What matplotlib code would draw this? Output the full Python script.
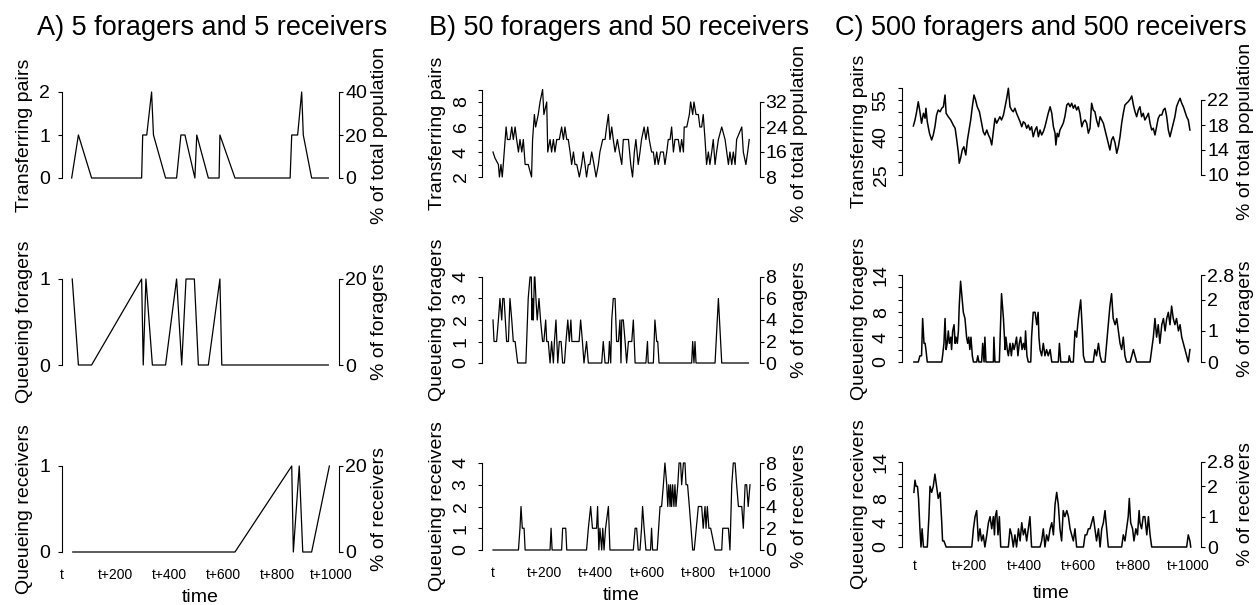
import numpy as np
import matplotlib
matplotlib.use("Agg")
import matplotlib.pyplot as plt

plt.rcParams['font.family'] = ['Liberation Sans', 'DejaVu Sans']

# ---------------- data ----------------
TITLES = ["A) 5 foragers and 5 receivers",
          "B) 50 foragers and 50 receivers",
          "C) 500 foragers and 500 receivers"]
LEFT_LABELS = ["Transferring pairs", "Queueing foragers", "Queueing receivers"]
RIGHT_LABELS = ["% of total population", "% of foragers", "% of receivers"]
XTICK_VALUES = [0, 200, 400, 600, 800, 1000]
XTICK_LABELS = ["t", "t+200", "t+400", "t+600", "t+800", "t+1000"]

# Panel A (5 + 5)
A1_T = [36, 61, 110, 296, 300, 315, 333, 340, 385, 426, 442, 457, 494, 501,
        544, 584, 587, 643, 848, 854, 876, 891, 897, 928, 990]
A1_V = [0, 1, 0, 0, 1, 1, 2, 1, 0, 0, 1, 1, 0, 1,
        0, 0, 1, 0, 0, 1, 1, 2, 1, 0, 0]
A2_T = [38, 61, 110, 296, 302, 312, 336, 385, 426, 445, 461, 492, 507, 544,
        587, 594, 990]
A2_V = [1, 0, 0, 1, 0, 1, 0, 0, 1, 0, 1, 1, 0, 0,
        1, 0, 0]
A3_T = [40, 643, 854, 860, 882, 895, 928, 994]
A3_V = [0, 0, 1, 0, 1, 0, 0, 1]

# Panel B (50 + 50)
B1_T = [0, 8, 21, 25, 31, 36, 40, 51, 56, 66,
        73, 79, 86, 92, 99, 105, 112, 118, 125, 137,
        150, 154, 161, 166, 176, 183, 193, 198, 209, 213,
        222, 228, 235, 241, 248, 258, 267, 274, 280, 287,
        293, 300, 306, 313, 319, 326, 336, 345, 351, 358,
        364, 371, 377, 384, 393, 401, 410, 416, 427, 436,
        442, 449, 455, 462, 468, 475, 484, 492, 501, 507,
        517, 527, 536, 543, 550, 556, 565, 572, 578, 588,
        595, 602, 608, 617, 624, 630, 637, 643, 652, 663,
        669, 676, 682, 689, 695, 702, 708, 715, 721, 728,
        734, 741, 744, 754, 764, 769, 777, 782, 790, 799,
        805, 812, 818, 825, 831, 838, 844, 851, 857, 864,
        870, 877, 890, 903, 916, 922, 929, 935, 942, 948,
        958, 968, 974, 984, 991, 997]
B1_V = [4, 3.5, 3, 2, 3, 2, 3, 6, 5, 5,
        6, 5, 6, 5, 4, 5, 4, 5, 3, 3,
        2, 5, 7, 6, 7, 8, 9, 7, 8, 4,
        5, 4, 5, 4, 5, 5, 6, 5, 6, 5,
        5, 4, 3, 4, 3, 3, 2, 3, 4, 3,
        2, 3, 3, 4, 3, 2, 3, 4, 5, 5,
        6, 7, 5, 6, 5, 4, 5, 4, 3, 5,
        5, 5, 3, 2, 4, 5, 3, 4, 5, 6,
        5, 6, 5, 4, 4, 3, 4, 3, 4, 4,
        3, 4, 5, 5, 6, 4, 5, 5, 5, 4,
        5, 4, 6, 6, 7, 8, 7, 8, 7, 7,
        6, 6, 7, 5, 3, 4, 3, 4, 5, 3,
        4, 5, 6, 5, 3, 4, 3, 4, 3, 5,
        5.5, 6, 4, 3, 4, 5]
B2_T = [0, 4, 14, 21, 27, 34, 38, 43, 48, 53,
        60, 66, 73, 79, 86, 96, 128, 137, 144, 149,
        152, 154, 157, 161, 163, 167, 172, 179, 185, 193,
        198, 205, 209, 215, 222, 228, 235, 239, 245, 252,
        258, 265, 271, 278, 284, 291, 297, 303, 307, 315,
        326, 335, 341, 348, 354, 364, 371, 423, 429, 436,
        449, 453, 458, 462, 468, 475, 481, 488, 494, 498,
        501, 507, 514, 520, 527, 533, 540, 546, 553, 595,
        601, 604, 624, 630, 637, 641, 646, 773, 777, 782,
        786, 790, 864, 877, 890, 994]
B2_V = [2, 1, 1, 2, 3, 2, 3, 3, 2, 1,
        1, 3, 2, 1, 1, 0, 0, 3, 4, 4,
        2, 3, 2, 4, 4, 3, 2, 3, 2, 1,
        1, 2, 1, 1, 0, 1, 0, 1, 2, 0,
        1, 1, 0, 0, 1, 2, 1, 2, 1, 1,
        1, 1, 2, 1, 0, 1, 0, 0, 1, 0,
        0, 1, 0, 2, 3, 3, 1, 1, 2, 0,
        2, 2, 1, 0, 1, 1, 1, 2, 0, 0,
        1, 0, 0, 2, 1, 1, 0, 0, 1, 0,
        1, 0, 0, 3, 0, 0]
B3_T = [0, 99, 105, 109, 114, 121, 125, 222, 226, 230,
        267, 271, 283, 287, 364, 371, 380, 387, 397, 403,
        407, 412, 416, 423, 427, 432, 438, 449, 455, 546,
        553, 559, 565, 572, 578, 582, 588, 595, 613, 617,
        621, 639, 650, 656, 663, 669, 676, 680, 684, 689,
        691, 695, 699, 704, 708, 712, 719, 724, 730, 734,
        741, 747, 751, 757, 764, 777, 783, 799, 812, 818,
        825, 829, 834, 840, 847, 864, 890, 894, 916, 922,
        929, 935, 942, 948, 955, 968, 974, 981, 987, 993,
        1000]
B3_V = [0, 0, 1, 2, 1, 1, 0, 0, 1, 0,
        0, 1, 1, 0, 0, 1, 2, 1, 1, 1,
        2, 0, 1, 0, 1, 0, 1, 2, 0, 0,
        1, 1, 0, 0, 1, 2, 1, 0, 0, 1,
        0, 0, 2, 2, 3, 4, 3, 2, 3, 2,
        3, 2, 3, 2, 3, 2, 3, 4, 4, 3,
        4, 4, 3, 3, 2, 0, 0, 2, 2, 1,
        2, 1, 2, 1, 1, 0, 0, 1, 1, 0,
        3, 4, 4, 3, 2, 2, 1, 3, 3, 2,
        3]

# Panel C (500 + 500)
C1_T = [-6, 0, 6, 12, 18, 24, 31, 37, 40, 45,
        53, 61, 67, 73, 79, 85, 92, 98, 104, 110,
        114, 122, 131, 140, 147, 153, 159, 162, 167, 173,
        179, 186, 192, 198, 204, 210, 216, 222, 228, 236,
        244, 250, 256, 263, 269, 275, 281, 287, 293, 299,
        305, 311, 317, 324, 330, 336, 342, 348, 354, 360,
        366, 372, 385, 391, 397, 403, 409, 415, 421, 427,
        433, 440, 446, 452, 458, 464, 470, 476, 482, 488,
        495, 501, 507, 513, 516, 521, 526, 531, 537, 543,
        549, 556, 562, 568, 574, 580, 586, 592, 598, 604,
        611, 617, 623, 629, 635, 641, 647, 653, 659, 665,
        672, 678, 684, 690, 696, 702, 708, 714, 720, 726,
        733, 739, 745, 751, 757, 763, 769, 775, 781, 788,
        794, 800, 806, 812, 818, 824, 830, 836, 842, 849,
        855, 861, 867, 873, 879, 885, 891, 897, 904, 910,
        916, 922, 928, 934, 940, 946, 952, 958, 965, 971,
        977, 983, 989, 995, 1001, 1007]
C1_V = [44.6, 47, 50.3, 54.3, 50.3, 45.7, 49.7, 47.7, 51.7, 46.3,
        41.7, 39, 41, 44.3, 49, 51, 50.3, 51.7, 52.3, 57,
        49.7, 48.3, 47, 45, 43.7, 39, 33.7, 29.7, 31.7, 35,
        36.3, 33, 39, 43, 47, 52.3, 57, 55, 52.3, 50.3,
        45.7, 42.3, 41, 43, 41, 39.7, 37, 42.3, 47.7, 45.7,
        47, 48.3, 47, 49, 52.3, 55.7, 59.7, 52.3, 51, 50.3,
        51.7, 49.7, 46.3, 44.3, 46.3, 45.7, 43.7, 45, 43, 44.3,
        40.3, 43, 44.3, 40.3, 43, 41, 42.3, 44.3, 47, 49.7,
        52.3, 49.7, 44.3, 41.7, 37, 41.7, 40.3, 43, 44.3, 45.7,
        48.3, 53, 53.7, 52.3, 53.7, 51.7, 53, 51, 52.3, 49.7,
        44.3, 46.3, 47, 45.7, 41.7, 43.7, 53.7, 51, 50.3, 47,
        44.3, 48.3, 47, 45.7, 43, 40.3, 37.7, 35, 39, 40.3,
        37.7, 33.7, 36.3, 40.3, 45.7, 49.7, 53, 53.7, 54.3, 55.3,
        56.6, 53, 50.3, 48.3, 51, 52.3, 48.3, 49.7, 47, 48.3,
        49.7, 45.7, 43, 43.7, 41, 44.3, 47.7, 49, 49, 51,
        51.7, 48.3, 43, 40.3, 43, 45.7, 48.3, 52.3, 54.3, 55.7,
        53.7, 52.3, 50.3, 48.3, 47, 43]
C2_T = [-4, 12, 18, 24, 28, 33, 37, 40, 45, 98,
        101, 106, 110, 114, 118, 122, 126, 131, 134, 138,
        143, 147, 150, 155, 159, 162, 167, 171, 177, 183,
        189, 193, 197, 201, 205, 210, 214, 226, 230, 234,
        244, 248, 253, 256, 260, 287, 289, 293, 309, 314,
        317, 324, 330, 333, 338, 342, 348, 353, 358, 363,
        368, 372, 377, 382, 387, 392, 397, 402, 405, 410,
        415, 424, 427, 433, 440, 446, 451, 454, 458, 464,
        470, 476, 482, 488, 495, 501, 525, 529, 534, 562,
        565, 570, 580, 586, 592, 596, 601, 607, 613, 617,
        623, 653, 659, 665, 672, 678, 684, 696, 702, 708,
        714, 720, 726, 733, 739, 745, 751, 757, 763, 769,
        775, 788, 794, 800, 806, 812, 861, 867, 873, 879,
        885, 891, 897, 904, 910, 916, 922, 928, 934, 940,
        946, 952, 958, 965, 971, 977, 983, 989, 995, 1001,
        1007]
C2_V = [0, 0, 1, 1, 7, 3, 3, 2, 0, 0,
        1, 3, 7, 2, 3, 5, 3, 4, 2, 5,
        6, 3, 4, 3, 5, 9, 13, 11, 8, 7,
        4, 3, 4, 2, 4, 1, 0, 0, 1, 0,
        0, 3, 0, 4, 0, 0, 4, 0, 0, 7,
        11, 7, 2, 4, 2, 1, 3, 1, 3, 2,
        3, 4, 1, 3, 4, 2, 3, 2, 5, 1,
        0, 0, 4, 8, 8, 6, 8, 4, 2, 1,
        3, 1, 2, 1, 2, 0, 0, 3, 0, 0,
        1, 0, 0, 5, 4, 6, 8, 10, 5, 1,
        0, 0, 2, 1, 3, 1, 0, 0, 3, 6,
        9, 11, 7, 6, 7, 5, 3, 2, 4, 1,
        0, 0, 1, 2, 1, 0, 0, 2, 4, 7,
        4, 6, 3, 6, 7, 5, 7, 8, 6, 9,
        7, 6, 7, 5, 6, 4, 3, 2, 1, 0,
        2]
C3_T = [-4, 0, 4, 9, 13, 18, 22, 26, 31, 45,
        51, 55, 61, 67, 73, 79, 85, 92, 98, 101,
        106, 114, 208, 214, 220, 226, 232, 238, 244, 250,
        256, 263, 269, 275, 281, 287, 291, 294, 299, 304,
        309, 314, 342, 348, 354, 360, 366, 372, 379, 385,
        391, 397, 403, 409, 415, 421, 427, 458, 464, 470,
        476, 482, 488, 495, 501, 507, 513, 519, 525, 531,
        537, 543, 549, 556, 562, 568, 574, 580, 586, 592,
        617, 623, 629, 635, 641, 647, 653, 659, 665, 672,
        678, 684, 690, 696, 702, 708, 757, 763, 769, 775,
        781, 785, 790, 797, 802, 809, 815, 821, 824, 830,
        836, 842, 849, 855, 861, 867, 995, 1001, 1007, 1010]
C3_V = [9, 11, 10, 10, 8, 3, 0, 3, 0, 0,
        5, 10, 9, 10, 12, 10, 8, 9, 4, 1,
        1, 0, 0, 3, 5, 6, 1, 3, 1, 2,
        0, 2, 4, 5, 3, 5, 2, 5, 6, 2,
        5, 0, 0, 3, 2, 0, 2, 0, 3, 1,
        4, 2, 3, 1, 3, 5, 0, 0, 1, 3,
        0, 2, 1, 3, 4, 2, 7, 9, 7, 3,
        1, 6, 5, 6, 5, 3, 2, 1, 3, 0,
        0, 2, 2, 3, 3, 4, 5, 3, 1, 3,
        0, 3, 4, 6, 3, 0, 0, 2, 1, 3,
        5, 8, 4, 3, 1, 3, 2, 6, 4, 3,
        5, 5, 2, 5, 2, 0, 0, 2, 1, 0]

SERIES = [[(A1_T, A1_V), (A2_T, A2_V), (A3_T, A3_V)],
          [(B1_T, B1_V), (B2_T, B2_V), (B3_T, B3_V)],
          [(C1_T, C1_V), (C2_T, C2_V), (C3_T, C3_V)]]

# left-axis ticks/labels, right-axis factor/ticks/labels
LEFT_TICKS = [
    [([0, 1, 2], ["0", "1", "2"]), ([0, 1], ["0", "1"]), ([0, 1], ["0", "1"])],
    [(list(range(2, 10)), ["2", "", "4", "", "6", "", "8", ""]),
     ([0, 1, 2, 3, 4], ["0", "1", "2", "3", "4"]),
     ([0, 1, 2, 3, 4], ["0", "1", "2", "3", "4"])],
    [(list(range(25, 61, 5)), ["25", "", "", "40", "", "", "55", ""]),
     (list(range(0, 15, 2)), ["0", "", "4", "", "8", "", "", "14"]),
     (list(range(0, 15, 2)), ["0", "", "4", "", "8", "", "", "14"])],
]
RIGHT_FACTOR = [[20, 20, 20], [4, 2, 2], [0.4, 0.2, 0.2]]
RIGHT_TICKS = [
    [[0, 20, 40], [0, 20], [0, 20]],
    [[8, 16, 24, 32], [0, 2, 4, 6, 8], [0, 2, 4, 6, 8]],
    [[10, 14, 18, 22], [0, 1, 2, 2.8], [0, 1, 2, 2.8]],
]
RIGHT_TICKLABELS = [
    [["0", "20", "40"], ["0", "20"], ["0", "20"]],
    [["8", "16", "24", "32"], ["0", "2", "4", "6", "8"], ["0", "2", "4", "6", "8"]],
    [["10", "14", "18", "22"], ["0", "1", "2", "2.8"], ["0", "1", "2", "2.8"]],
]

# ---------------- layout (pixels) ----------------
W, H = 1260, 605
fig = plt.figure(figsize=(W / 100, H / 100), dpi=100)

COL_PX = [  # left spine, right spine, px of t, px of t+1000
    (62, 339, 62, 331),
    (482, 759.5, 493, 750),
    (902, 1201, 915, 1188),
]
ROW_PX = [  # per column: (px of lowest tick, px of highest tick) per row
    [(178, 92), (365, 279), (552, 466)],
    [(177, 89.5), (363, 277), (550, 463)],
    [(175, 87.5), (362, 275), (547, 462)],
]
LEFT_LABEL_X = [25, 438, 860]
RIGHT_LABEL_X = [380, 800, 1245]
TITLE_X = [37, 429, 835]
TIME_Y = [597, 595, 593]
XTICK_PAD = [11.5, 11.7, 8.8]
LEFT_ROT = [0, 90, 90]
LEFT_PAD = [5.8, 6.0, 6.0]
LINE_W = [0.9, 0.9, 1.1]

FS_TICK = 14
FS_LABEL = 14
LW = 0.8


def fx(px):
    return px / W


def fy(py):
    return 1 - py / H


for c in range(3):
    l, r, t0, t1 = COL_PX[c]
    s = (t1 - t0) / 1000.0
    xlim = ((l - t0) / s, (r - t0) / s)
    fig.text(fx(TITLE_X[c]), fy(35), TITLES[c], fontsize=19.5,
             ha='left', va='baseline')
    for rr in range(3):
        p_lo, p_hi = ROW_PX[c][rr]
        ticks, labels = LEFT_TICKS[c][rr]
        lo, hi = ticks[0], ticks[-1]
        ax = fig.add_axes([fx(l), fy(p_lo), (r - l) / W, (p_lo - p_hi) / H])
        ax.set_xlim(*xlim)
        ax.set_ylim(lo, hi)
        tt, vv = SERIES[c][rr]
        ax.plot(tt, vv, color='black', lw=LINE_W[c], clip_on=False)
        for side in ('top', 'bottom', 'right'):
            ax.spines[side].set_visible(False)
        ax.spines['left'].set_linewidth(LW)
        ax.set_yticks(ticks)
        ax.set_yticklabels(labels)
        ax.tick_params(axis='y', direction='out', length=2.9, width=LW,
                       labelsize=FS_TICK, pad=LEFT_PAD[c],
                       labelrotation=LEFT_ROT[c])
        if LEFT_ROT[c] == 90:
            for lab in ax.get_yticklabels():
                lab.set_va('center')
        if rr == 2:
            ax.set_xticks(XTICK_VALUES)
            ax.set_xticklabels(XTICK_LABELS)
            ax.tick_params(axis='x', length=0, labelsize=10,
                           pad=XTICK_PAD[c])
        else:
            ax.set_xticks([])
        # right axis
        f = RIGHT_FACTOR[c][rr]
        ax2 = ax.twinx()
        ax2.set_ylim(lo * f, hi * f)
        rt = RIGHT_TICKS[c][rr]
        ax2.set_yticks(rt)
        ax2.set_yticklabels(RIGHT_TICKLABELS[c][rr])
        for side in ('top', 'bottom', 'left'):
            ax2.spines[side].set_visible(False)
        ax2.spines['right'].set_bounds(rt[0], rt[-1])
        ax2.spines['right'].set_linewidth(LW)
        ax2.tick_params(axis='y', direction='out', length=2.9, width=LW,
                        labelsize=FS_TICK, pad=1.5)
        # axis labels
        yc = (p_lo + p_hi) / 2
        fig.text(fx(LEFT_LABEL_X[c]), fy(yc), LEFT_LABELS[rr], rotation=90,
                 ha='center', va='center', fontsize=FS_LABEL)
        fig.text(fx(RIGHT_LABEL_X[c]), fy(yc), RIGHT_LABELS[rr], rotation=90,
                 ha='center', va='center', fontsize=FS_LABEL)
    fig.text(fx((l + r) / 2), fy(TIME_Y[c]), "time", ha='center',
             va='center', fontsize=FS_LABEL)

fig.savefig("out.png", dpi=100, facecolor='white')
